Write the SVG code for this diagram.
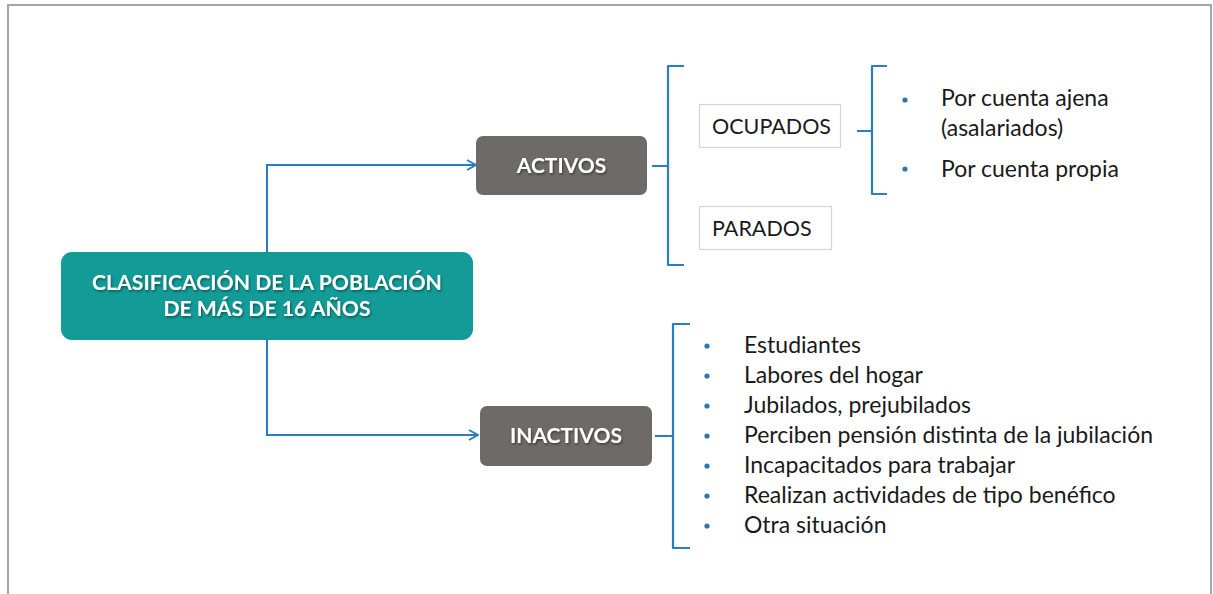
<svg xmlns="http://www.w3.org/2000/svg" width="1213" height="594" viewBox="0 0 1213 594">
<defs>
<style>
.frame{fill:none;stroke:#a6a6a6;stroke-width:2}
.conn{fill:none;stroke:#2a7cc6;stroke-width:2}
.brace{fill:none;stroke:#2a7cc6;stroke-width:2.2;stroke-linejoin:round}
.main{fill:#129b97}
.gray{fill:#6e6a68}
.sub{fill:#fff;stroke:#d4d4d4;stroke-width:1.2}
.bt{font-family:Lato,"Liberation Sans",sans-serif;font-weight:bold;fill:#fff;text-anchor:middle}
.tx{font-family:Lato,"Liberation Sans",sans-serif;fill:#1a1a1a;font-size:23px}
.cap{font-family:Lato,"Liberation Sans",sans-serif;fill:#1a1a1a;font-size:21.5px}
.dot{fill:#2e75b6}
</style>
<marker id="arr" viewBox="0 0 12 12" refX="11" refY="6" markerWidth="12" markerHeight="12" markerUnits="userSpaceOnUse" orient="auto">
<path d="M2,1 L11,6 L2,11" fill="none" stroke="#2a7cc6" stroke-width="2"/>
</marker>
<filter id="sh" x="-10%" y="-10%" width="120%" height="130%">
<feDropShadow dx="1" dy="1.5" stdDeviation="0.8" flood-color="#000" flood-opacity="0.45"/>
</filter>
</defs>
<rect width="1213" height="594" fill="#fff"/>
<path class="frame" d="M8,600 L8,5 L1211,5 L1211,600"/>

<g id="connectors">
<path class="conn" d="M267,252 L267,165 L476,165" marker-end="url(#arr)"/>
<path class="conn" d="M267,340 L267,435 L478,435" marker-end="url(#arr)"/>
<path class="brace" d="M652,166 L668,166 M684,66 L668,66 L668,265 L684,265"/>
<path class="brace" d="M857,131 L872,131 M887,66 L872,66 L872,194 L887,194"/>
<path class="brace" d="M655,436 L673,436 M690,324 L673,324 L673,548 L690,548"/>
</g>

<g id="node-main">
<rect class="main" x="61" y="252" width="412" height="88" rx="11"/>
<text class="bt" font-size="21.2" filter="url(#sh)"><tspan x="267" y="290">CLASIFICACIÓN DE LA POBLACIÓN</tspan><tspan x="267" y="316">DE MÁS DE 16 AÑOS</tspan></text>
</g>

<g id="node-activos">
<rect class="gray" x="476" y="136" width="171" height="59" rx="7"/>
<text class="bt" font-size="21" x="561.5" y="173" filter="url(#sh)">ACTIVOS</text>
</g>

<g id="node-inactivos">
<rect class="gray" x="480" y="406" width="172" height="60" rx="7"/>
<text class="bt" font-size="21" x="566" y="443" filter="url(#sh)">INACTIVOS</text>
</g>

<g id="node-ocupados">
<rect class="sub" x="699.5" y="104.5" width="141" height="43"/>
<text class="cap" x="712" y="134">OCUPADOS</text>
</g>

<g id="node-parados">
<rect class="sub" x="699.5" y="206.5" width="132" height="43"/>
<text class="cap" x="712" y="236">PARADOS</text>
</g>

<g id="node-ocupados-list">
<circle class="dot" cx="905" cy="100" r="2.6"/>
<circle class="dot" cx="905" cy="169" r="2.6"/>
<text class="tx" x="941" y="106">Por cuenta ajena</text>
<text class="tx" x="941" y="136">(asalariados)</text>
<text class="tx" x="941" y="177">Por cuenta propia</text>
</g>

<g id="node-inactivos-list">
<circle class="dot" cx="707" cy="346" r="2.6"/>
<circle class="dot" cx="707" cy="376" r="2.6"/>
<circle class="dot" cx="707" cy="406" r="2.6"/>
<circle class="dot" cx="707" cy="436" r="2.6"/>
<circle class="dot" cx="707" cy="466" r="2.6"/>
<circle class="dot" cx="707" cy="496" r="2.6"/>
<circle class="dot" cx="707" cy="526" r="2.6"/>
<text class="tx" x="744" y="353">Estudiantes</text>
<text class="tx" x="744" y="383">Labores del hogar</text>
<text class="tx" x="744" y="413">Jubilados, prejubilados</text>
<text class="tx" x="744" y="443">Perciben pensión distinta de la jubilación</text>
<text class="tx" x="744" y="473">Incapacitados para trabajar</text>
<text class="tx" x="744" y="503">Realizan actividades de tipo benéfico</text>
<text class="tx" x="744" y="533">Otra situación</text>
</g>
</svg>
